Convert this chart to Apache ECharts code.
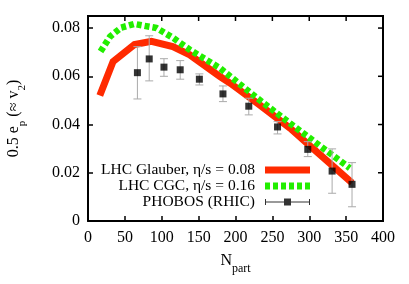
<!DOCTYPE html>
<html><head><meta charset="utf-8">
<script src="https://cdn.jsdelivr.net/npm/echarts@6/dist/echarts.min.js"></script>
<style>html,body{margin:0;padding:0;background:#fff}#c{width:409px;height:284px}</style>
</head><body><div id="c"></div>
<script>
var glauberN = [16, 34, 63, 86, 115, 138, 179, 193, 230, 274, 301, 328, 358];
var glauberV = [0.0520, 0.0661, 0.0732, 0.0745, 0.0723, 0.0689, 0.0599, 0.0571, 0.0488, 0.0385, 0.0312, 0.0239, 0.0158];
var cgcN = [17, 30, 45, 63, 93, 116, 138, 179, 193, 230, 274, 328, 355];
var cgcV = [0.0703, 0.0765, 0.0802, 0.0817, 0.0800, 0.0758, 0.0710, 0.0634, 0.0599, 0.0508, 0.0405, 0.0281, 0.0219];
var phobosN = [67, 83, 103, 125, 151, 183, 218, 257, 298, 331, 358];
var phobosV = [0.0615, 0.0672, 0.0638, 0.0627, 0.0588, 0.0527, 0.0476, 0.0390, 0.0297, 0.0207, 0.0152];
var phobosLow = [0.0506, 0.0581, 0.0600, 0.0588, 0.0564, 0.0495, 0.0440, 0.0361, 0.0267, 0.0115, 0.0059];
var phobosHigh = [0.0723, 0.0768, 0.0673, 0.0665, 0.0610, 0.0560, 0.0509, 0.0412, 0.0329, 0.0299, 0.0242];
var xTicks = [0, 50, 100, 150, 200, 250, 300, 350, 400];
var yTicks = [0, 0.02, 0.04, 0.06, 0.08];
var X_MAX = 400, Y_MAX = 0.085;

var FONT = 'Liberation Serif';
function zip(a, b) { return a.map(function (v, i) { return [v, b[i]]; }); }
function axisLine() { return {show: true, onZero: false, lineStyle: {color: '#000', width: 2}}; }
function tick() { return {show: true, inside: true, length: 5, lineStyle: {color: '#000', width: 1.5}}; }

var chart = echarts.init(document.getElementById('c'), null, {renderer: 'canvas'});
var phobosIcon = 'path://M0,3h45v1h-45z M0,0.5h1v6h-1z M44,0.5h1v6h-1z M19,0h7v7h-7z';
var dashIcon = 'path://M0,0h5v7h-5z M8,0h5v7h-5z M16,0h5v7h-5z M24,0h5v7h-5z M32,0h5v7h-5z M40,0h5v7h-5z';

chart.setOption({
  animation: false,
  grid: {left: 88, right: 26, top: 16, bottom: 63, outerBoundsMode: 'none', containLabel: false},
  legend: {
    orient: 'vertical', align: 'right', right: 94, top: 157,
    itemWidth: 45, itemHeight: 7, itemGap: 0,
    textStyle: {fontFamily: FONT, fontSize: 15.5, color: '#000', padding: [0, 5, 0, 0]},
    data: [
      {name: 'LHC Glauber, η/s = 0.08', icon: 'rect'},
      {name: 'LHC CGC, η/s = 0.16', icon: dashIcon},
      {name: 'PHOBOS (RHIC)', icon: phobosIcon}
    ]
  },
  xAxis: {
    type: 'value', min: 0, max: X_MAX, interval: 50,
    axisLine: axisLine(), axisTick: tick(), splitLine: {show: false},
    axisLabel: {fontFamily: FONT, fontSize: 16, color: '#000', margin: 9,
      formatter: function (v) { return xTicks.indexOf(v) >= 0 ? String(v) : ''; }},
    name: '{a|N}{s|part}', nameLocation: 'middle', nameGap: 32,
    nameTextStyle: {rich: {
      a: {fontFamily: FONT, fontSize: 16, color: '#000', lineHeight: 22, verticalAlign: 'top'},
      s: {fontFamily: FONT, fontSize: 12, color: '#000', lineHeight: 22, verticalAlign: 'bottom'}
    }}
  },
  yAxis: {
    type: 'value', min: 0, max: Y_MAX, interval: 0.02,
    axisLine: axisLine(), axisTick: tick(), splitLine: {show: false},
    axisLabel: {fontFamily: FONT, fontSize: 16, color: '#000', margin: 8,
      formatter: function (v) {
        for (var i = 0; i < yTicks.length; i++) {
          if (Math.abs(v - yTicks[i]) < 1e-9) return yTicks[i] === 0 ? '0' : yTicks[i].toFixed(2);
        }
        return '';
      }},
    name: '{a|0.5 e}{s|p}{a| (≈ v}{s|2}{a|)}', nameLocation: 'middle', nameGap: 60, nameRotate: 90,
    nameTextStyle: {rich: {
      a: {fontFamily: FONT, fontSize: 16, color: '#000', lineHeight: 22, verticalAlign: 'top'},
      s: {fontFamily: FONT, fontSize: 11, color: '#000', lineHeight: 22, verticalAlign: 'bottom'}
    }}
  },
  series: [
    {
      name: 'LHC Glauber, η/s = 0.08', type: 'line', data: zip(glauberN, glauberV),
      showSymbol: false, symbol: 'none', z: 2,
      itemStyle: {color: '#ff2a00'},
      lineStyle: {color: '#ff2a00', width: 7, join: 'miter'}
    },
    {
      name: 'LHC CGC, η/s = 0.16', type: 'line', data: zip(cgcN, cgcV),
      showSymbol: false, symbol: 'none', z: 3,
      itemStyle: {color: '#22ee00'},
      lineStyle: {color: '#22ee00', width: 6.5, type: [5, 3], cap: 'butt'}
    },
    {
      name: 'PHOBOS errors', type: 'custom', z: 4,
      data: phobosN.map(function (n, i) { return [n, phobosLow[i], phobosHigh[i]]; }),
      renderItem: function (params, api) {
        var x = api.value(0);
        var lo = api.coord([x, api.value(1)]);
        var hi = api.coord([x, api.value(2)]);
        var w = 4;
        var st = {stroke: '#aaaaaa', lineWidth: 1};
        return {type: 'group', children: [
          {type: 'line', shape: {x1: lo[0], y1: lo[1], x2: hi[0], y2: hi[1]}, style: st},
          {type: 'line', shape: {x1: lo[0] - w, y1: lo[1], x2: lo[0] + w, y2: lo[1]}, style: st},
          {type: 'line', shape: {x1: hi[0] - w, y1: hi[1], x2: hi[0] + w, y2: hi[1]}, style: st}
        ]};
      }
    },
    {
      name: 'PHOBOS (RHIC)', type: 'scatter', data: zip(phobosN, phobosV), z: 5,
      symbol: 'rect', symbolSize: 7, itemStyle: {color: '#000'}
    }
  ]
});

// Mirror frame (top and right axes) placed through the chart's own scales
var p0 = chart.convertToPixel({gridIndex: 0}, [0, 0]);
var p1 = chart.convertToPixel({gridIndex: 0}, [X_MAX, Y_MAX]);
var frameStyle = {stroke: '#000', lineWidth: 2};
var tickStyle = {stroke: '#000', lineWidth: 1.5};
var els = [
  {type: 'line', z: 100, shape: {x1: p0[0] - 1, y1: p1[1], x2: p1[0] + 1, y2: p1[1]}, style: frameStyle},
  {type: 'line', z: 100, shape: {x1: p1[0], y1: p0[1] + 1, x2: p1[0], y2: p1[1] - 1}, style: frameStyle}
];
xTicks.forEach(function (v) {
  if (v === 0 || v === X_MAX) return;
  var px = chart.convertToPixel({gridIndex: 0}, [v, Y_MAX])[0];
  els.push({type: 'line', z: 100, shape: {x1: px, y1: p1[1], x2: px, y2: p1[1] + 5}, style: tickStyle});
});
yTicks.forEach(function (v) {
  if (v === 0) return;
  var py = chart.convertToPixel({gridIndex: 0}, [X_MAX, v])[1];
  els.push({type: 'line', z: 100, shape: {x1: p1[0] - 5, y1: py, x2: p1[0], y2: py}, style: tickStyle});
});
chart.setOption({graphic: {elements: els}});
</script></body></html>
